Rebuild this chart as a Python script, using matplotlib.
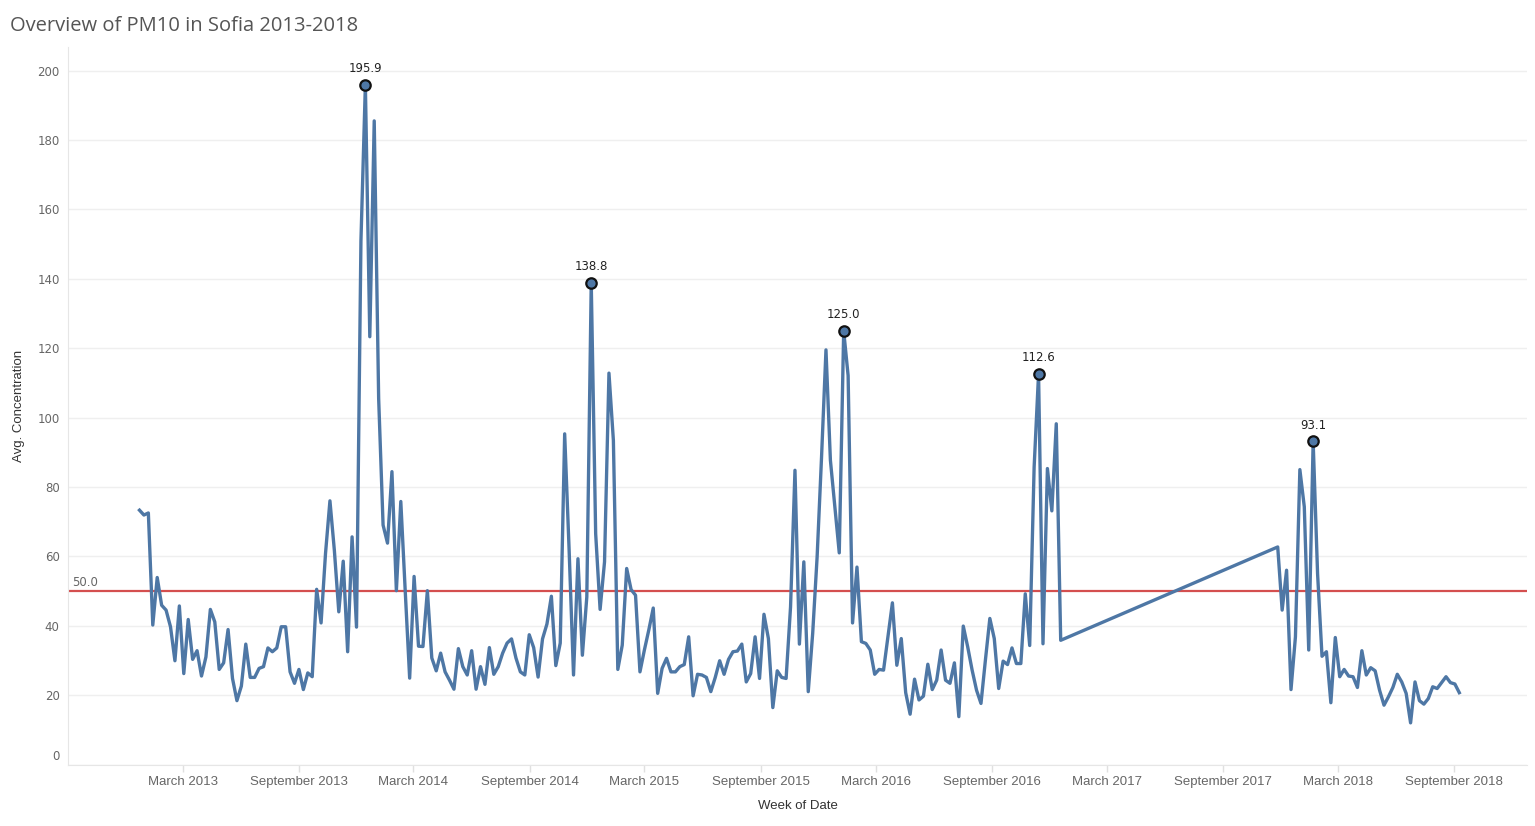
import matplotlib
matplotlib.use('Agg')
import matplotlib.pyplot as plt
import pandas as pd

# weekly average PM10
# first run of weeks: 2012-12-23 .. 2016-12-18
seg1_values = [
    73.3, 71.9, 72.5, 40.2, 53.9, 45.9, 44.5, 39.7, 29.9, 45.7, 26.2, 41.8, 30.3, 32.8, 25.5, 31.0,
    44.7, 41.1, 27.4, 29.3, 38.9, 24.8, 18.4, 22.6, 34.7, 25.1, 25.1, 27.7, 28.2, 33.6, 32.5, 33.6,
    39.7, 39.7, 26.7, 23.4, 27.4, 21.6, 26.4, 25.3, 50.5, 40.8, 60.8, 76.0, 61.7, 44.0, 58.6, 32.5,
    65.6,
    39.6, 150.9, 195.9, 123.3, 185.5, 105.5, 69.0, 63.8, 84.4, 50.1, 75.8, 50.0, 24.9, 54.2, 34.1,
    34.0, 50.1, 30.7, 27.0, 32.1, 26.7, 24.3, 21.7, 33.4, 28.2, 25.8, 32.8, 21.7, 28.2, 23.1, 33.7,
    26.0, 28.2, 32.1, 35.0, 36.2, 30.7, 26.7, 25.8, 37.4, 33.7, 25.2, 36.2, 40.5, 48.5, 28.5, 35.0,
    95.3, 62.0,
    25.8, 59.3, 31.5, 48.3, 138.8, 66.5, 44.7, 58.4, 112.8, 93.4, 27.4, 34.4, 56.5, 50.4, 48.8, 26.7,
    33.0, 38.8, 45.1, 20.5, 27.7, 30.6, 26.7, 26.7, 28.2, 28.8, 36.8, 19.8, 26.0, 25.8, 25.1, 21.0,
    25.1, 29.9, 26.0, 30.3, 32.5, 32.7, 34.7, 23.8, 26.2, 36.8, 24.8, 43.3, 36.3, 16.4, 27.0,
    25.1, 24.8, 45.4, 84.8, 34.7, 58.4, 21.0, 37.8, 59.8, 88.6, 119.5, 87.7, 74.2, 61.0, 125.0, 112.1,
    40.8, 56.9, 35.4, 34.9, 33.0, 26.0, 27.4, 27.2, 36.8, 46.6, 28.6, 36.3, 20.7, 14.5, 24.6, 18.6,
    19.7, 28.9, 21.6, 24.3, 33.0, 24.3, 23.4, 29.3, 13.8, 39.9, 33.9, 27.2, 21.4, 17.6, 30.1, 42.1,
    36.3, 21.9,
    29.8, 28.8, 33.6, 29.1, 29.1, 49.2, 34.3, 85.7, 112.6, 34.8, 85.3, 73.1, 98.2, 35.8,
]
# second run of weeks: 2017-11-26 .. 2018-09-09
seg2_values = [
    62.7, 44.5, 56.0, 21.6, 36.8, 85.0, 74.3, 33.0, 93.1, 55.0, 31.2, 32.5, 17.8, 36.6, 25.3, 27.4,
    25.5, 25.3, 22.2, 32.8, 25.8, 27.9, 27.0, 21.4, 17.1, 19.5, 22.2, 26.0, 23.8, 20.5, 12.0, 23.8,
    18.4, 17.4, 19.0, 22.4, 21.9, 23.6, 25.3, 23.6, 23.2, 20.7,
]
seg1_start = '2012-12-23'
seg2_start = '2017-11-26'

peak_labels = [195.9, 138.8, 125.0, 112.6, 93.1]
limit_value = 50.0

tick_dates = ['2013-03-01', '2013-09-01', '2014-03-01', '2014-09-01', '2015-03-01', '2015-09-01',
              '2016-03-01', '2016-09-01', '2017-03-01', '2017-09-01', '2018-03-01', '2018-09-01']
y_ticks = [0, 20, 40, 60, 80, 100, 120, 140, 160, 180, 200]

dates = list(pd.date_range(seg1_start, periods=len(seg1_values), freq='7D')) + \
        list(pd.date_range(seg2_start, periods=len(seg2_values), freq='7D'))
values = seg1_values + seg2_values

line_color = '#4e77a5'
narrow = ['Liberation Sans', 'DejaVu Sans']

fig = plt.figure(figsize=(15.35, 8.26), dpi=100)
ax = fig.add_axes([68 / 1535, 1 - 764.5 / 826, (1527 - 68) / 1535, (764.5 - 47) / 826])

ax.plot(dates, values, color=line_color, lw=2.4, solid_joinstyle='round', zorder=3)
ax.axhline(limit_value, color='#d44f4f', lw=1.6, zorder=2)
ax.text(0.003, limit_value + 0.6, '%.1f' % limit_value, transform=ax.get_yaxis_transform(),
        fontsize=8.5, color='#666666', va='bottom', ha='left')

# labelled peaks
for pv in peak_labels:
    i = values.index(pv)
    ax.plot(dates[i], pv, 'o', ms=7.5, mfc=line_color, mec='#111111', mew=1.6, zorder=4)
    ax.annotate('%.1f' % pv, (dates[i], pv), xytext=(0, 7), textcoords='offset points',
                ha='center', va='bottom', fontsize=8.5, color='#222222')

ax.set_xlim(pd.Timestamp('2012-09-01'), pd.Timestamp('2018-12-25'))
ax.set_ylim(0, 206.8)

ax.set_xticks([pd.Timestamp(d) for d in tick_dates])
ax.set_xticklabels([pd.Timestamp(d).strftime('%B %Y') for d in tick_dates],
                   family=narrow, fontsize=9.5, color='#666666')
ax.set_yticks(y_ticks)
# bottom "0" is drawn by hand so it can sit inside the pane like the original
ax.set_yticklabels(['' if v == 0 else str(v) for v in y_ticks], fontsize=8.5, color='#666666')
ax.annotate('0', (0, 0), xycoords=('axes fraction', 'data'), xytext=(-6, 1),
            textcoords='offset points', ha='right', va='bottom', fontsize=8.5, color='#666666')

ax.tick_params(axis='x', length=5, width=1, color='#e0e0e0', pad=3)
ax.tick_params(axis='y', length=0, pad=6)

ax.grid(axis='y', color='#efefef', lw=1)
ax.set_axisbelow(True)
for s in ['top', 'right']:
    ax.spines[s].set_visible(False)
ax.spines['left'].set_color('#e6e6e6')
ax.spines['bottom'].set_color('#e6e6e6')

ax.set_xlabel('Week of Date', family=narrow, fontsize=9.5, color='#333333', labelpad=9)
ax.set_ylabel('Avg. Concentration', family=narrow, fontsize=9.5, color='#333333', labelpad=9)

fig.text(10 / 1535, 1 - 26 / 826, 'Overview of PM10 in Sofia 2013-2018', fontsize=14.5,
         color='#555555', va='center', ha='left', family=['Open Sans', 'DejaVu Sans'])

fig.savefig('out.png', dpi=100)
